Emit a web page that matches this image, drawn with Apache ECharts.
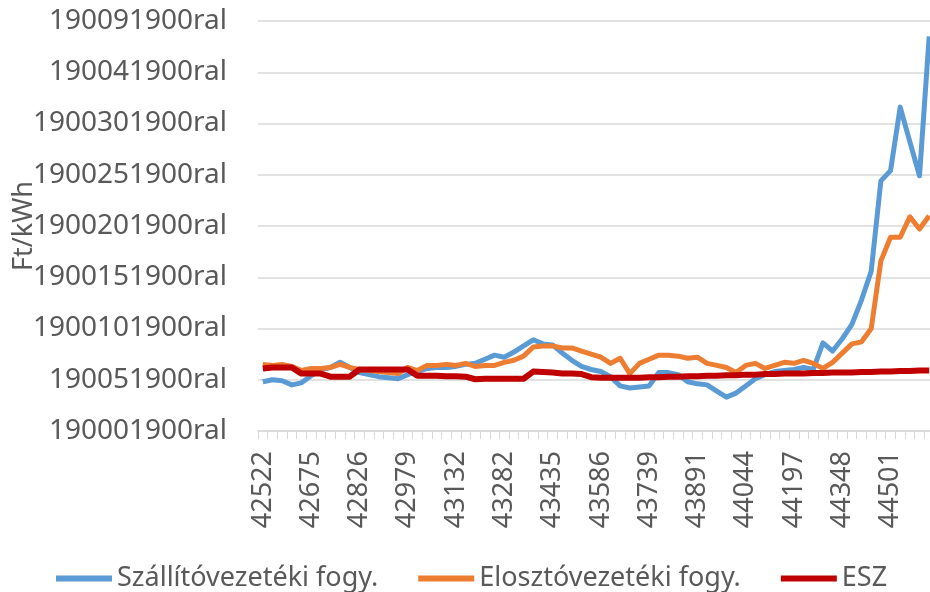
<!DOCTYPE html>
<html>
<head>
<meta charset="utf-8">
<script src="https://cdn.jsdelivr.net/npm/echarts@6.0.0/dist/echarts.min.js"></script>
<style>
  html, body { margin: 0; padding: 0; background: #fff; overflow: hidden; }
  /* the original plot runs a few px past the right edge of the picture */
  #chart { width: 934px; height: 592px; }
</style>
</head>
<body>
<div id="chart"></div>
<script>
// Excel date serials, first day of each month (2016-06 .. 2022-03)
const months = [
  42522, 42552, 42583, 42614, 42644, 42675, 42705, 42736, 42767, 42795,
  42826, 42856, 42887, 42917, 42948, 42979, 43009, 43040, 43070, 43101,
  43132, 43160, 43191, 43221, 43252, 43282, 43313, 43344, 43374, 43405,
  43435, 43466, 43497, 43525, 43556, 43586, 43617, 43647, 43678, 43709,
  43739, 43770, 43800, 43831, 43862, 43891, 43922, 43952, 43983, 44013,
  44044, 44075, 44105, 44136, 44166, 44197, 44228, 44256, 44287, 44317,
  44348, 44378, 44409, 44440, 44470, 44501, 44531, 44562, 44593, 44621
]

const szallito = [
  4.8, 5.0, 4.9, 4.5, 4.7, 5.4, 6.0, 6.2, 6.7, 6.2,
  5.7, 5.5, 5.3, 5.2, 5.1, 5.5, 5.8, 6.1, 6.2, 6.2,
  6.3, 6.5, 6.6, 7.0, 7.4, 7.2, 7.7, 8.3, 8.9, 8.5,
  8.4, 7.6, 6.9, 6.3, 6.0, 5.8, 5.3, 4.4, 4.2, 4.3,
  4.4, 5.7, 5.7, 5.5, 4.8, 4.6, 4.5, 3.9, 3.3, 3.7,
  4.4, 5.1, 5.5, 5.8, 5.9, 6.0, 6.2, 6.0, 8.6, 7.8,
  9.0, 10.4, 12.8, 15.6, 24.4, 25.4, 31.6, 28.2, 24.9, 38.5
]

const eloszto = [
  6.5, 6.4, 6.5, 6.3, 5.9, 6.1, 6.1, 6.2, 6.5, 6.2,
  6.0, 5.9, 5.8, 5.7, 5.6, 6.2, 5.9, 6.4, 6.4, 6.5,
  6.4, 6.6, 6.3, 6.4, 6.4, 6.7, 6.9, 7.3, 8.2, 8.3,
  8.3, 8.1, 8.1, 7.8, 7.5, 7.2, 6.6, 7.1, 5.6, 6.6,
  7.0, 7.4, 7.4, 7.3, 7.1, 7.2, 6.6, 6.4, 6.2, 5.7,
  6.4, 6.6, 6.1, 6.4, 6.7, 6.6, 6.9, 6.6, 6.1, 6.7,
  7.6, 8.5, 8.7, 10.0, 16.6, 18.9, 18.9, 20.9, 19.7, 21.0
]

const esz = [
  6.1, 6.2, 6.2, 6.2, 5.6, 5.6, 5.6, 5.3, 5.3, 5.3,
  6.0, 6.0, 6.0, 6.0, 6.0, 6.0, 5.4, 5.4, 5.4, 5.35,
  5.35, 5.3, 5.05, 5.1, 5.1, 5.1, 5.1, 5.1, 5.8, 5.75,
  5.7, 5.6, 5.6, 5.55, 5.25, 5.2, 5.2, 5.2, 5.2, 5.2,
  5.25, 5.25, 5.3, 5.3, 5.35, 5.35, 5.4, 5.4, 5.45, 5.45,
  5.5, 5.5, 5.55, 5.55, 5.6, 5.6, 5.6, 5.65, 5.65, 5.7,
  5.7, 5.7, 5.75, 5.75, 5.8, 5.8, 5.85, 5.85, 5.9, 5.9
]

// the broken number format of the original, bottom to top (0, 5, ... 40)
const yTickLabels = [
  '190001900ral', '190051900ral', '1900101900ral', '1900151900ral', '1900201900ral',
  '1900251900ral', '1900301900ral', '190041900ral', '190091900ral'
]

const seriesDefs = [
  { name: 'Szállítóvezetéki fogy.', data: szallito, color: '#5B9BD5', width: 5 },
  { name: 'Elosztóvezetéki fogy.', data: eloszto, color: '#ED7D31', width: 5 },
  { name: 'ESZ', data: esz, color: '#C00000', width: 6 }
]

const textColor = '#595959'
const font = 'Noto Sans'

const chart = echarts.init(document.getElementById('chart'))

chart.setOption({
  animation: false,
  // fixed plot box; don't let v6 squeeze it to fit the labels
  grid: { left: 258, right: 0, top: 21, bottom: 161, containLabel: false, outerBoundsMode: 'none' },
  legend: {
    top: 560,
    left: 51,
    itemWidth: 56,
    itemHeight: 6,
    itemGap: 40,
    icon: 'rect',
    textStyle: { color: textColor, fontSize: 27, fontFamily: font },
    data: seriesDefs.map((s) => s.name)
  },
  xAxis: {
    type: 'category',
    data: months.map(String),
    boundaryGap: true,
    axisLine: { show: true, lineStyle: { color: '#D9D9D9', width: 1.5 } },
    axisTick: { show: true, interval: 0, length: 8, lineStyle: { color: '#D9D9D9', width: 1 } },
    axisLabel: {
      interval: 4,
      rotate: 90,
      margin: 20,
      color: textColor,
      fontSize: 27,
      fontFamily: font
    },
    splitLine: { show: false }
  },
  yAxis: {
    type: 'value',
    min: 0,
    max: 40,
    interval: 5,
    name: 'Ft/kWh',
    nameLocation: 'middle',
    nameGap: 220,
    // the original title sits on top of the tick labels, keep it there
    nameMoveOverlap: false,
    nameTextStyle: { color: textColor, fontSize: 27, fontFamily: font },
    axisLine: { show: false },
    axisTick: { show: false },
    axisLabel: {
      margin: 31,
      color: textColor,
      fontSize: 28,
      fontFamily: font,
      formatter: (v) => yTickLabels[Math.round(v / 5)] ?? ''
    },
    splitLine: { lineStyle: { color: '#D9D9D9', width: 1.5 } }
  },
  series: seriesDefs.map((s) => ({
    name: s.name,
    type: 'line',
    data: s.data,
    symbol: 'none',
    smooth: false,
    lineStyle: { width: s.width, color: s.color, join: 'round' },
    itemStyle: { color: s.color }
  }))
})
</script>
</body>
</html>
